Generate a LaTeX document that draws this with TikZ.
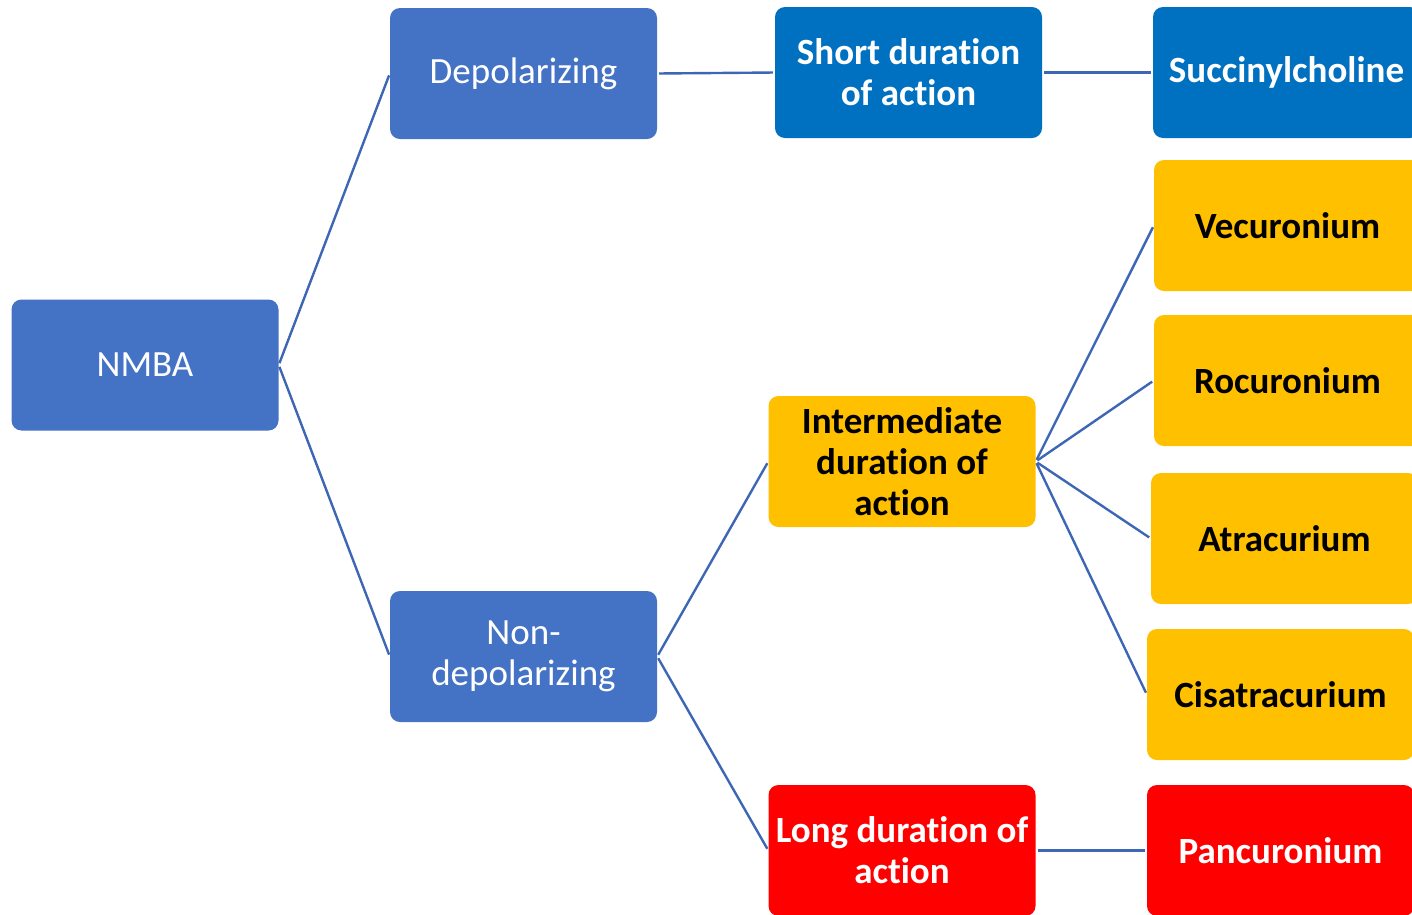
\documentclass[tikz,border=0pt]{standalone}
\usepackage{fontspec}
\setmainfont{Carlito}[Ligatures=NoCommon]
\definecolor{midblue}{HTML}{4472C4}
\definecolor{deepblue}{HTML}{0070C0}
\definecolor{amber}{HTML}{FFC000}
\definecolor{brightred}{HTML}{FF0000}
\definecolor{linkblue}{HTML}{3D66B5}
\tikzset{
  box/.style={draw=none, rounded corners=10pt, minimum width=267pt, minimum height=131pt,
    inner sep=2pt, align=center, font=\fontsize{37}{41}\selectfont},
  catbox/.style={box, fill=midblue, text=white},
  shortbox/.style={box, fill=deepblue, text=white, font=\fontsize{37}{41}\selectfont\bfseries},
  midbox/.style={box, fill=amber, text=black, font=\fontsize{37}{41}\selectfont\bfseries},
  longbox/.style={box, fill=brightred, text=white, font=\fontsize{37}{41}\selectfont\bfseries},
  link/.style={draw=linkblue, line width=2.4pt, shorten <=2pt, shorten >=2pt}
}
\begin{document}
\begin{tikzpicture}[x=1pt, y=-1pt]
\useasboundingbox (0,0) rectangle (1412,914);
\begin{scope}
\clip (0,0) rectangle (1412,914);
% root and the two classes
\node[catbox] (nmba) at (145,365) {NMBA};
\node[catbox] (depol) at (523.5,73.5) {Depolarizing};
\node[catbox] (nondepol) at (523.5,656.5) {Non-\\depolarizing};
% duration of action
\node[shortbox] (short) at (908.5,72.5) {Short duration\\of action};
\node[midbox] (inter) at (902,461.5) {Intermediate\\duration of\\action};
\node[longbox] (long) at (902,850.5) {Long duration of\\action};
% individual drugs
\node[shortbox] (succ) at (1286.5,72.5) {Succinylcholine};
\node[midbox] (vec) at (1287.5,225.5) {Vecuronium};
\node[midbox] (roc) at (1287.5,380.5) {Rocuronium};
\node[midbox] (atr) at (1284.5,538.5) {Atracurium};
\node[midbox] (cis) at (1280.5,694.5) {Cisatracurium};
\node[longbox] (panc) at (1280.5,850.5) {Pancuronium};
% connectors
\draw[link] (nmba.east) -- (depol.west);
\draw[link] (nmba.east) -- (nondepol.west);
\draw[link] (depol.east) -- (short.west);
\draw[link] (short.east) -- (succ.west);
\draw[link] (nondepol.east) -- (inter.west);
\draw[link] (nondepol.east) -- (long.west);
\draw[link] (inter.east) -- (vec.west);
\draw[link] (inter.east) -- (roc.west);
\draw[link] (inter.east) -- (atr.west);
\draw[link] (inter.east) -- (cis.west);
\draw[link] (long.east) -- (panc.west);
\end{scope}
\end{tikzpicture}
\end{document}
